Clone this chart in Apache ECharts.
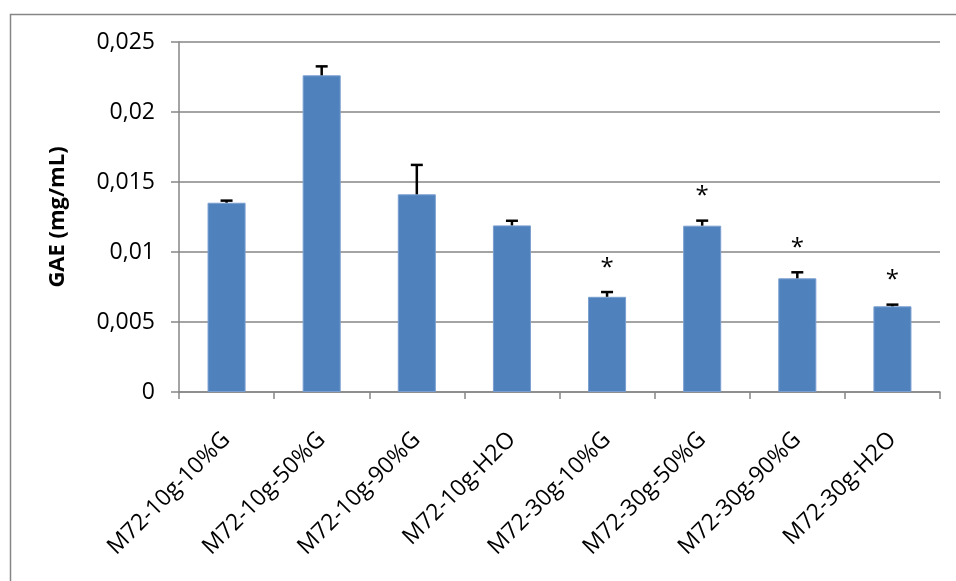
<!DOCTYPE html>
<html>
<head>
<meta charset="utf-8">
<script src="https://cdn.jsdelivr.net/npm/echarts@6/dist/echarts.min.js"></script>
<style>
html,body{margin:0;padding:0;background:#fff;}
#chart{width:956px;height:581px;}
</style>
</head>
<body>
<div id="chart"></div>
<script>
const categories = ['M72-10g-10%G','M72-10g-50%G','M72-10g-90%G','M72-10g-H2O','M72-30g-10%G','M72-30g-50%G','M72-30g-90%G','M72-30g-H2O'];
const values = [0.01352, 0.02262, 0.01412, 0.0119, 0.0068, 0.01188, 0.00812, 0.00612];
const errors = [0.00015, 0.00064, 0.0021, 0.00033, 0.00034, 0.00036, 0.00043, 0.00012];
const stars = ['', '', '', '', '*', '*', '*', '*'];
const yMin = 0, yMax = 0.025, yStep = 0.005;
const yTitle = 'GAE (mg/mL)';

const FONT = '"Open Sans", "Noto Sans", sans-serif';
const GRAY = '#868686';

const chart = echarts.init(document.getElementById('chart'), null, {renderer:'canvas'});
const errData = categories.map((c, i) => [i, values[i], errors[i], stars[i]]);

chart.setOption({
  animation: false,
  backgroundColor: '#fff',
  graphic: [{
    type: 'rect', left: 8, top: 12, silent: true,
    shape: {width: 1200, height: 1000},
    style: {fill: 'none', stroke: GRAY, lineWidth: 1.5}
  }],
  grid: {left: 179, right: 16, top: 42, bottom: 189, containLabel: false},
  xAxis: {
    type: 'category',
    data: categories,
    boundaryGap: true,
    axisLine: {show: true, lineStyle: {color: GRAY, width: 1.5}},
    axisTick: {show: true, alignWithLabel: false, length: 7, lineStyle: {color: GRAY, width: 1.5}},
    axisLabel: {rotate: 45, margin: 44, interval: 0, color: '#000', fontSize: 23, fontFamily: FONT},
    splitLine: {show: false}
  },
  yAxis: {
    type: 'value',
    min: yMin, max: yMax, interval: yStep,
    name: yTitle,
    nameLocation: 'middle',
    nameGap: 110,
    nameRotate: 90,
    nameTextStyle: {color: '#000', fontSize: 22, fontWeight: 'bold', fontFamily: FONT},
    axisLine: {show: true, lineStyle: {color: GRAY, width: 1.5}},
    axisTick: {show: true, length: 8, lineStyle: {color: GRAY, width: 1.5}},
    axisLabel: {
      margin: 24, color: '#000', fontSize: 23, fontFamily: FONT,
      formatter: v => String(+v.toFixed(3)).replace('.', ',')
    },
    splitLine: {show: true, lineStyle: {color: GRAY, width: 1.5}}
  },
  series: [
    {
      type: 'bar',
      data: values,
      barWidth: '40%',
      itemStyle: {color: '#4F81BD', borderColor: '#7A9FD0', borderWidth: 1},
      z: 2
    },
    {
      type: 'custom',
      data: errData,
      z: 5,
      renderItem: function (params, api) {
        const i = api.value(0);
        const v = api.value(1);
        const e = api.value(2);
        const star = errData[params.dataIndex][3];
        const base = api.coord([i, v]);
        const top = api.coord([i, v + e]);
        const half = 6;
        const children = [
          {type: 'line', shape: {x1: base[0], y1: base[1], x2: top[0], y2: top[1]}, style: {stroke: '#000', lineWidth: 2.5}},
          {type: 'line', shape: {x1: top[0] - half, y1: top[1], x2: top[0] + half, y2: top[1]}, style: {stroke: '#000', lineWidth: 2.5}}
        ];
        if (star) {
          children.push({
            type: 'text',
            style: {text: star, x: top[0], y: top[1] - 24, textAlign: 'center', textVerticalAlign: 'middle', fill: '#000', font: '24px ' + FONT}
          });
        }
        return {type: 'group', children: children};
      }
    }
  ]
});
</script>
</body>
</html>
